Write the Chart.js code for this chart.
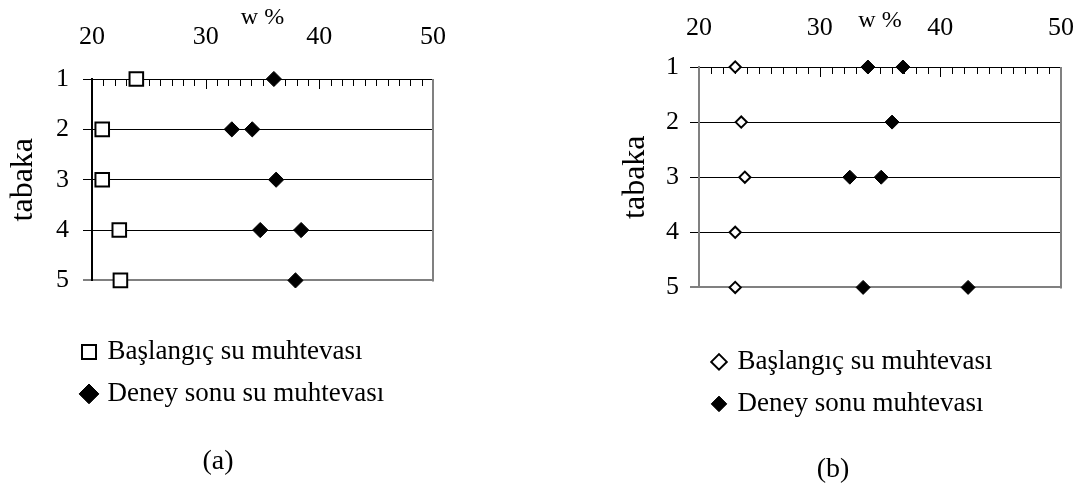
<!DOCTYPE html>
<html><head><meta charset="utf-8">
<script src="https://cdn.jsdelivr.net/npm/chart.js@4.4.1/dist/chart.umd.min.js"></script>
<style>
html,body{margin:0;padding:0;background:#fff;}
body{width:1086px;height:491px;position:relative;overflow:hidden;}
canvas{position:absolute;top:0;}
#ca{left:-12px;}
#cb{left:590px;}
</style></head><body>
<canvas id="ca" width="460" height="491"></canvas>
<canvas id="cb" width="486" height="491"></canvas>
<script>
// ---- data ----
const layers = [1, 2, 3, 4, 5];
const xTickValues = [20, 30, 40, 50];
const xTitle = 'w %';
const yTitle = 'tabaka';
const seriesNamesA = ['Başlangıç su muhtevası', 'Deney sonu su muhtevası'];
const seriesNamesB = ['Başlangıç su muhtevası', 'Deney sonu muhtevası'];
const panelTitles = ['(a)', '(b)'];
const aInitialW = [23.9, 20.9, 20.9, 22.4, 22.5];
const aFinalW = [36.0, 32.3, 34.1, 36.2, 34.8, 38.4, 37.9];
const aFinalLayer = [1, 2, 2, 3, 4, 4, 5];
const bInitialW = [23.0, 23.5, 23.8, 23.0, 23.0];
const bFinalW = [34.0, 36.9, 36.0, 32.5, 35.1, 33.6, 42.3];
const bFinalLayer = [1, 1, 2, 3, 3, 5, 5];

Chart.defaults.font.family = "'Liberation Serif', 'Times New Roman', serif";
Chart.defaults.color = '#000';

const framePlugin = {
  id: 'frame',
  beforeDatasetsDraw(chart, args, o) {
    const {ctx, chartArea: {right, top, bottom}, scales: {x}} = chart;
    ctx.save();
    ctx.strokeStyle = '#808080'; ctx.lineWidth = 2;
    ctx.beginPath(); ctx.moveTo(right, top); ctx.lineTo(right, bottom + 1); ctx.stroke();
    ctx.strokeStyle = '#000'; ctx.lineWidth = 1;
    for (let v = x.min + 1; v < x.max; v += 1) {
      const px = Math.round(x.getPixelForValue(v)) + 0.5;
      const len = (v % 10 === 0) ? o.major : o.minor;
      ctx.beginPath(); ctx.moveTo(px, top); ctx.lineTo(px, top + len); ctx.stroke();
    }
    ctx.restore();
  }
};
const legendShift = {
  id: 'legendShift',
  afterLayout(chart, args, o) {
    const lg = chart.legend; if (!lg) return;
    lg.left += o.dx; lg.right += o.dx; lg.top += o.dy; lg.bottom += o.dy;
  }
};
const noPad = s => { s.paddingLeft = 0; s.paddingRight = 0; s.paddingTop = 0; s.paddingBottom = 0; };

function build(id, o) {
  return new Chart(document.getElementById(id), {
    type: 'scatter',
    data: { datasets: [
      { label: o.names[0], data: o.initW.map((w, i) => ({x: w, y: layers[i]})),
        pointStyle: o.initStyle, pointRadius: o.initR, pointBackgroundColor: '#fff',
        pointBorderColor: '#000', pointBorderWidth: 2, clip: false },
      { label: o.names[1], data: o.finW.map((w, i) => ({x: w, y: o.finL[i]})),
        pointStyle: 'rectRot', pointRadius: o.finR, pointBackgroundColor: '#000',
        pointBorderColor: '#000', pointBorderWidth: 1, clip: false }
    ]},
    options: {
      responsive: false, animation: false, devicePixelRatio: 1,
      layout: { autoPadding: false, padding: { left: o.padL, right: o.padR, top: 0, bottom: 0 } },
      scales: {
        x: { type: 'linear', position: 'top', min: 20, max: 50,
          afterBuildTicks: s => { s.ticks = xTickValues.map(v => ({value: v})); },
          afterFit: s => { s.height = o.xH; noPad(s); },
          grid: { display: false, drawTicks: false },
          border: { display: true, color: '#000', width: 1 },
          ticks: { font: { size: 26 }, color: '#000', padding: o.xPad, maxRotation: 0, autoSkip: false },
          title: { display: true, text: xTitle, font: { size: 24 }, color: '#000', padding: { top: o.xtPad, bottom: 0 } } },
        y: { type: 'linear', position: 'left', reverse: true, min: 1, max: 5,
          afterBuildTicks: s => { s.ticks = layers.map(v => ({value: v})); },
          afterFit: s => { s.width = o.yW; noPad(s); },
          grid: { color: c => (c.tick && c.tick.value === 5) ? '#808080' : '#000',
                  lineWidth: c => (c.tick && c.tick.value === 5) ? 2 : 1,
                  drawTicks: true, tickLength: 9, tickColor: '#000', tickWidth: 1 },
          border: { display: true, color: o.leftColor, width: 2 },
          ticks: { font: { size: 26 }, color: '#000', padding: o.yPad },
          title: { display: true, text: yTitle, font: { size: 32 }, color: '#000', padding: { top: o.ytPad, bottom: 0 } } }
      },
      plugins: {
        legend: { display: true, position: 'bottom', align: 'start',
          labels: { usePointStyle: true, boxWidth: 10, boxHeight: o.lgBox, padding: 15,
                    font: { size: 27 }, color: '#000' } },
        title: { display: true, text: o.title, position: 'bottom', font: { size: 28, weight: 'normal' },
                 color: '#000', padding: { top: o.tPadT, bottom: o.tPadB } },
        tooltip: { enabled: false },
        frame: { minor: 7, major: 10 },
        legendShift: { dx: o.dx, dy: o.dy }
      }
    },
    plugins: [framePlugin, legendShift]
  });
}

build('ca', { names: seriesNamesA, initW: aInitialW, finW: aFinalW, finL: aFinalLayer,
  initStyle: 'rect', initR: 9.6, finR: 7.6, padL: 15, padR: 15, xH: 79, xPad: 26, xtPad: 3,
  yW: 89, yPad: 14, ytPad: 1, leftColor: '#000', lgBox: 14, title: panelTitles[0],
  tPadT: 70, tPadB: 13, dx: 66, dy: 43 });
build('cb', { names: seriesNamesB, initW: bInitialW, finW: bFinalW, finL: bFinalLayer,
  initStyle: 'rectRot', initR: 5.6, finR: 7, padL: 15, padR: 15, xH: 67, xPad: 23, xtPad: 6,
  yW: 94, yPad: 11, ytPad: 11, leftColor: '#808080', lgBox: 11, title: panelTitles[1],
  tPadT: 71, tPadB: 5, dx: 94, dy: 46 });
</script>
</body></html>
